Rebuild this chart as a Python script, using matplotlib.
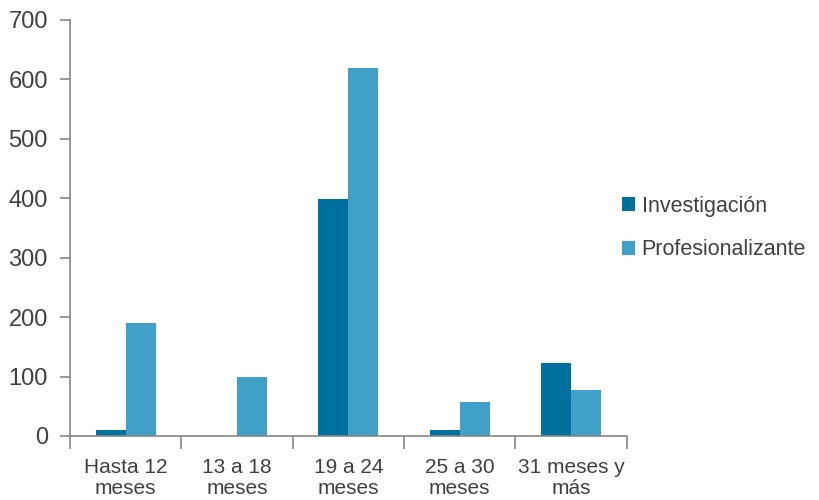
import numpy as np
import matplotlib.pyplot as plt
from matplotlib.ticker import FixedLocator

categories = ["Hasta 12\nmeses", "13 a 18\nmeses", "19 a 24\nmeses", "25 a 30\nmeses", "31 meses y\nmás"]
investigacion = [10, 0, 398, 10, 122]
profesionalizante = [190, 100, 620, 57, 77]

plt.rcParams['font.family'] = ['Liberation Sans', 'DejaVu Sans']

fig = plt.figure(figsize=(8.2, 5), dpi=100)
ax = fig.add_axes([0.0854, 0.128, 0.679, 0.832])

x = np.arange(len(categories))
w = 0.27
ax.bar(x - w / 2, investigacion, w, color="#00709f", label="Investigación")
ax.bar(x + w / 2, profesionalizante, w, color="#40a0c8", label="Profesionalizante")

ax.set_xlim(-0.5, len(categories) - 0.5)
ax.set_ylim(0, 700)
ax.set_yticks(range(0, 701, 100))
ax.set_xticks(x)
ax.set_xticklabels(categories, fontsize=15, color="#404040", linespacing=1.12)
ax.xaxis.set_minor_locator(FixedLocator(np.arange(-0.5, len(categories), 1)))
ax.tick_params(axis='x', which='major', length=0, pad=16)
ax.tick_params(axis='x', which='minor', length=9, width=1.2, color="#868686")
ax.tick_params(axis='y', length=7, width=1.2, color="#868686", labelsize=17, labelcolor="#404040", pad=9)

for s in ['top', 'right']:
    ax.spines[s].set_visible(False)
for s in ['left', 'bottom']:
    ax.spines[s].set_color("#868686")
    ax.spines[s].set_linewidth(1.2)

ax.legend(loc='center left', bbox_to_anchor=(0.957, 0.50), frameon=False, fontsize=15.5,
          handlelength=0.6, handleheight=0.6, handletextpad=0.3, labelspacing=1.05,
          labelcolor="#404040")

plt.savefig("out.png", dpi=100)
